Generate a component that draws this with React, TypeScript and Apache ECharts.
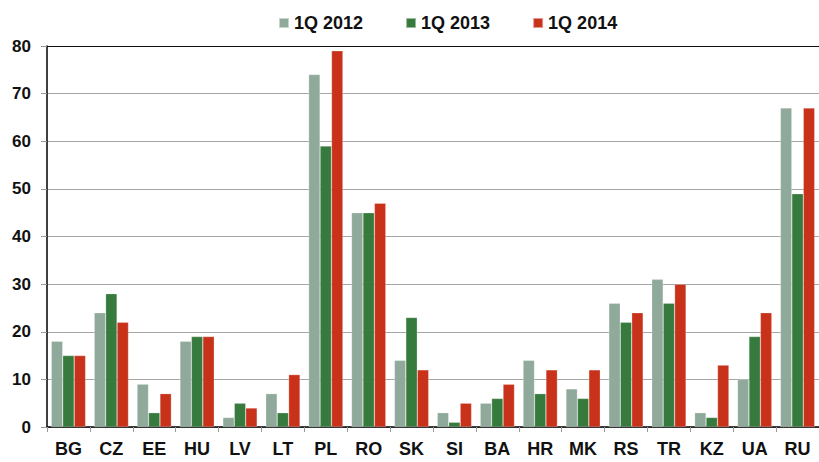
import React, { useEffect, useRef } from "react";
import * as echarts from "echarts";

const categories = ["BG", "CZ", "EE", "HU", "LV", "LT", "PL", "RO", "SK", "SI", "BA", "HR", "MK", "RS", "TR", "KZ", "UA", "RU"];
const q2012 = [18, 24, 9, 18, 2, 7, 74, 45, 14, 3, 5, 14, 8, 26, 31, 3, 10, 67];
const q2013 = [15, 28, 3, 19, 5, 3, 59, 45, 23, 1, 6, 7, 6, 22, 26, 2, 19, 49];
const q2014 = [15, 22, 7, 19, 4, 11, 79, 47, 12, 5, 9, 12, 12, 24, 30, 13, 24, 67];
const seriesNames = ["1Q 2012", "1Q 2013", "1Q 2014"];
const colors = ["#8FA99A", "#377A3D", "#C9321A"];

export default function App() {
  const ref = useRef<HTMLDivElement>(null);
  useEffect(() => {
    if (!ref.current) return;
    const chart = echarts.init(ref.current, null, { renderer: "svg" });
    const font = "'Liberation Sans', Arial, sans-serif";
    const data = [q2012, q2013, q2014];
    chart.setOption({
      animation: false,
      color: colors,
      textStyle: { fontFamily: font },
      legend: {
        data: seriesNames,
        left: 273,
        top: 9,
        itemWidth: 10,
        itemHeight: 10,
        itemGap: 42,
        icon: "rect",
        textStyle: { fontSize: 18, fontWeight: "bold", color: "#111", fontFamily: font },
      },
      grid: { left: 47, right: 0, top: 46, bottom: 35, containLabel: false },
      xAxis: {
        type: "category",
        data: categories,
        axisLine: { lineStyle: { color: "#000", width: 1.5 } },
        axisTick: { show: true, length: 5, lineStyle: { color: "#999" } },
        axisLabel: { fontSize: 18, fontWeight: "bold", color: "#111", margin: 13, fontFamily: font },
      },
      yAxis: {
        type: "value",
        min: 0,
        max: 80,
        interval: 10,
        axisLine: { show: true, lineStyle: { color: "#000", width: 1.5 } },
        axisTick: { show: true, length: 6, lineStyle: { color: "#999" } },
        axisLabel: { fontSize: 17, fontWeight: "bold", color: "#111", margin: 16, fontFamily: font },
        splitLine: {
          show: true,
          lineStyle: { color: ["#A6A6A6", "#A6A6A6", "#A6A6A6", "#A6A6A6", "#A6A6A6", "#A6A6A6", "#A6A6A6", "#A6A6A6", "#111"], width: 1 },
        },
      },
      series: seriesNames.map((name, i) => ({
        name,
        type: "bar",
        data: data[i],
        barGap: "0%",
        barCategoryGap: "20%",
        itemStyle: { color: colors[i], borderColor: "rgba(255,255,255,0.5)", borderWidth: 0.5 },
      })),
    });
    return () => chart.dispose();
  }, []);
  return <div ref={ref} style={{ width: 819, height: 462, position: "absolute", left: 0, top: 0 }} />;
}
